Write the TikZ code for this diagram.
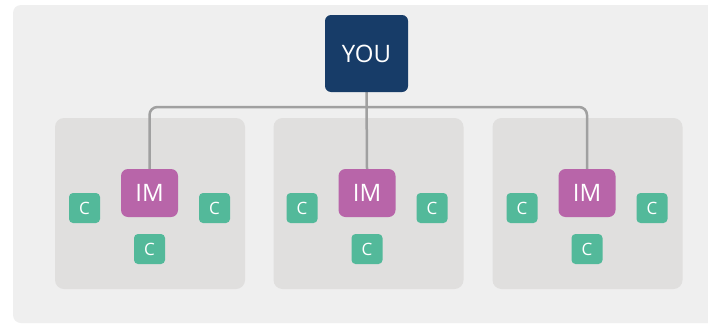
\documentclass[tikz,border=0pt]{standalone}
\usepackage{fontspec}
\setmainfont{Open Sans}
\definecolor{navy}{HTML}{173C68}
\definecolor{imcol}{HTML}{B865A9}
\definecolor{ccol}{HTML}{53B99A}
\definecolor{bgcol}{HTML}{EFEFEF}
\definecolor{grpcol}{HTML}{E0DFDE}
\definecolor{linecol}{HTML}{A0A0A0}
\pgfdeclarelayer{back}
\pgfdeclarelayer{mid}
\pgfsetlayers{back,mid,main}
\tikzset{
  youbox/.style={fill=navy, rounded corners=6pt, minimum width=83pt, minimum height=77pt, inner sep=0pt, text=white, font=\fontsize{24}{24}\selectfont},
  imbox/.style={fill=imcol, rounded corners=7pt, minimum width=57pt, minimum height=48pt, inner sep=0pt, text=white, font=\fontsize{24}{24}\selectfont},
  cbox/.style={fill=ccol, rounded corners=4pt, minimum width=31pt, minimum height=30pt, inner sep=0pt, text=white, font=\fontsize{17}{17}\selectfont},
  grpbox/.style={fill=grpcol, rounded corners=9pt, minimum width=190pt, minimum height=171pt, inner sep=0pt},
  conn/.style={draw=linecol, line width=2.5pt, rounded corners=8pt}
}
\begin{document}
\begin{tikzpicture}[x=1pt,y=-1pt]
\useasboundingbox (0,0) rectangle (708,324);
\begin{pgfonlayer}{back}
\fill[white] (0,0) rectangle (708,324);
\fill[bgcol, rounded corners=8pt] (13,5) rectangle (720,323);
\node[grpbox] (g1) at (150,203.5) {};
\node[grpbox] (g2) at (368.5,203.5) {};
\node[grpbox] (g3) at (587.5,203.5) {};
\end{pgfonlayer}
\node[youbox] (you) at (366.5,53.5) {YOU};
\node[imbox] (im1) at (149.5,193) {IM};
\node[imbox] (im2) at (367,193) {IM};
\node[imbox] (im3) at (587,193) {IM};
\coordinate (bus) at (367,107);
\begin{pgfonlayer}{mid}
\draw[conn] (im1.north) |- (bus) -| (im3.north);
\draw[conn] (you.south) -- (im2.north);
\end{pgfonlayer}
\foreach \i in {1,2,3}{
  \node[cbox] (c\i l) at ([xshift=-65pt,yshift=-15pt]im\i.center) {C};
  \node[cbox] (c\i r) at ([xshift=65pt,yshift=-15pt]im\i.center) {C};
  \node[cbox] (c\i b) at ([yshift=-56pt]im\i.center) {C};
}
\end{tikzpicture}
\end{document}
